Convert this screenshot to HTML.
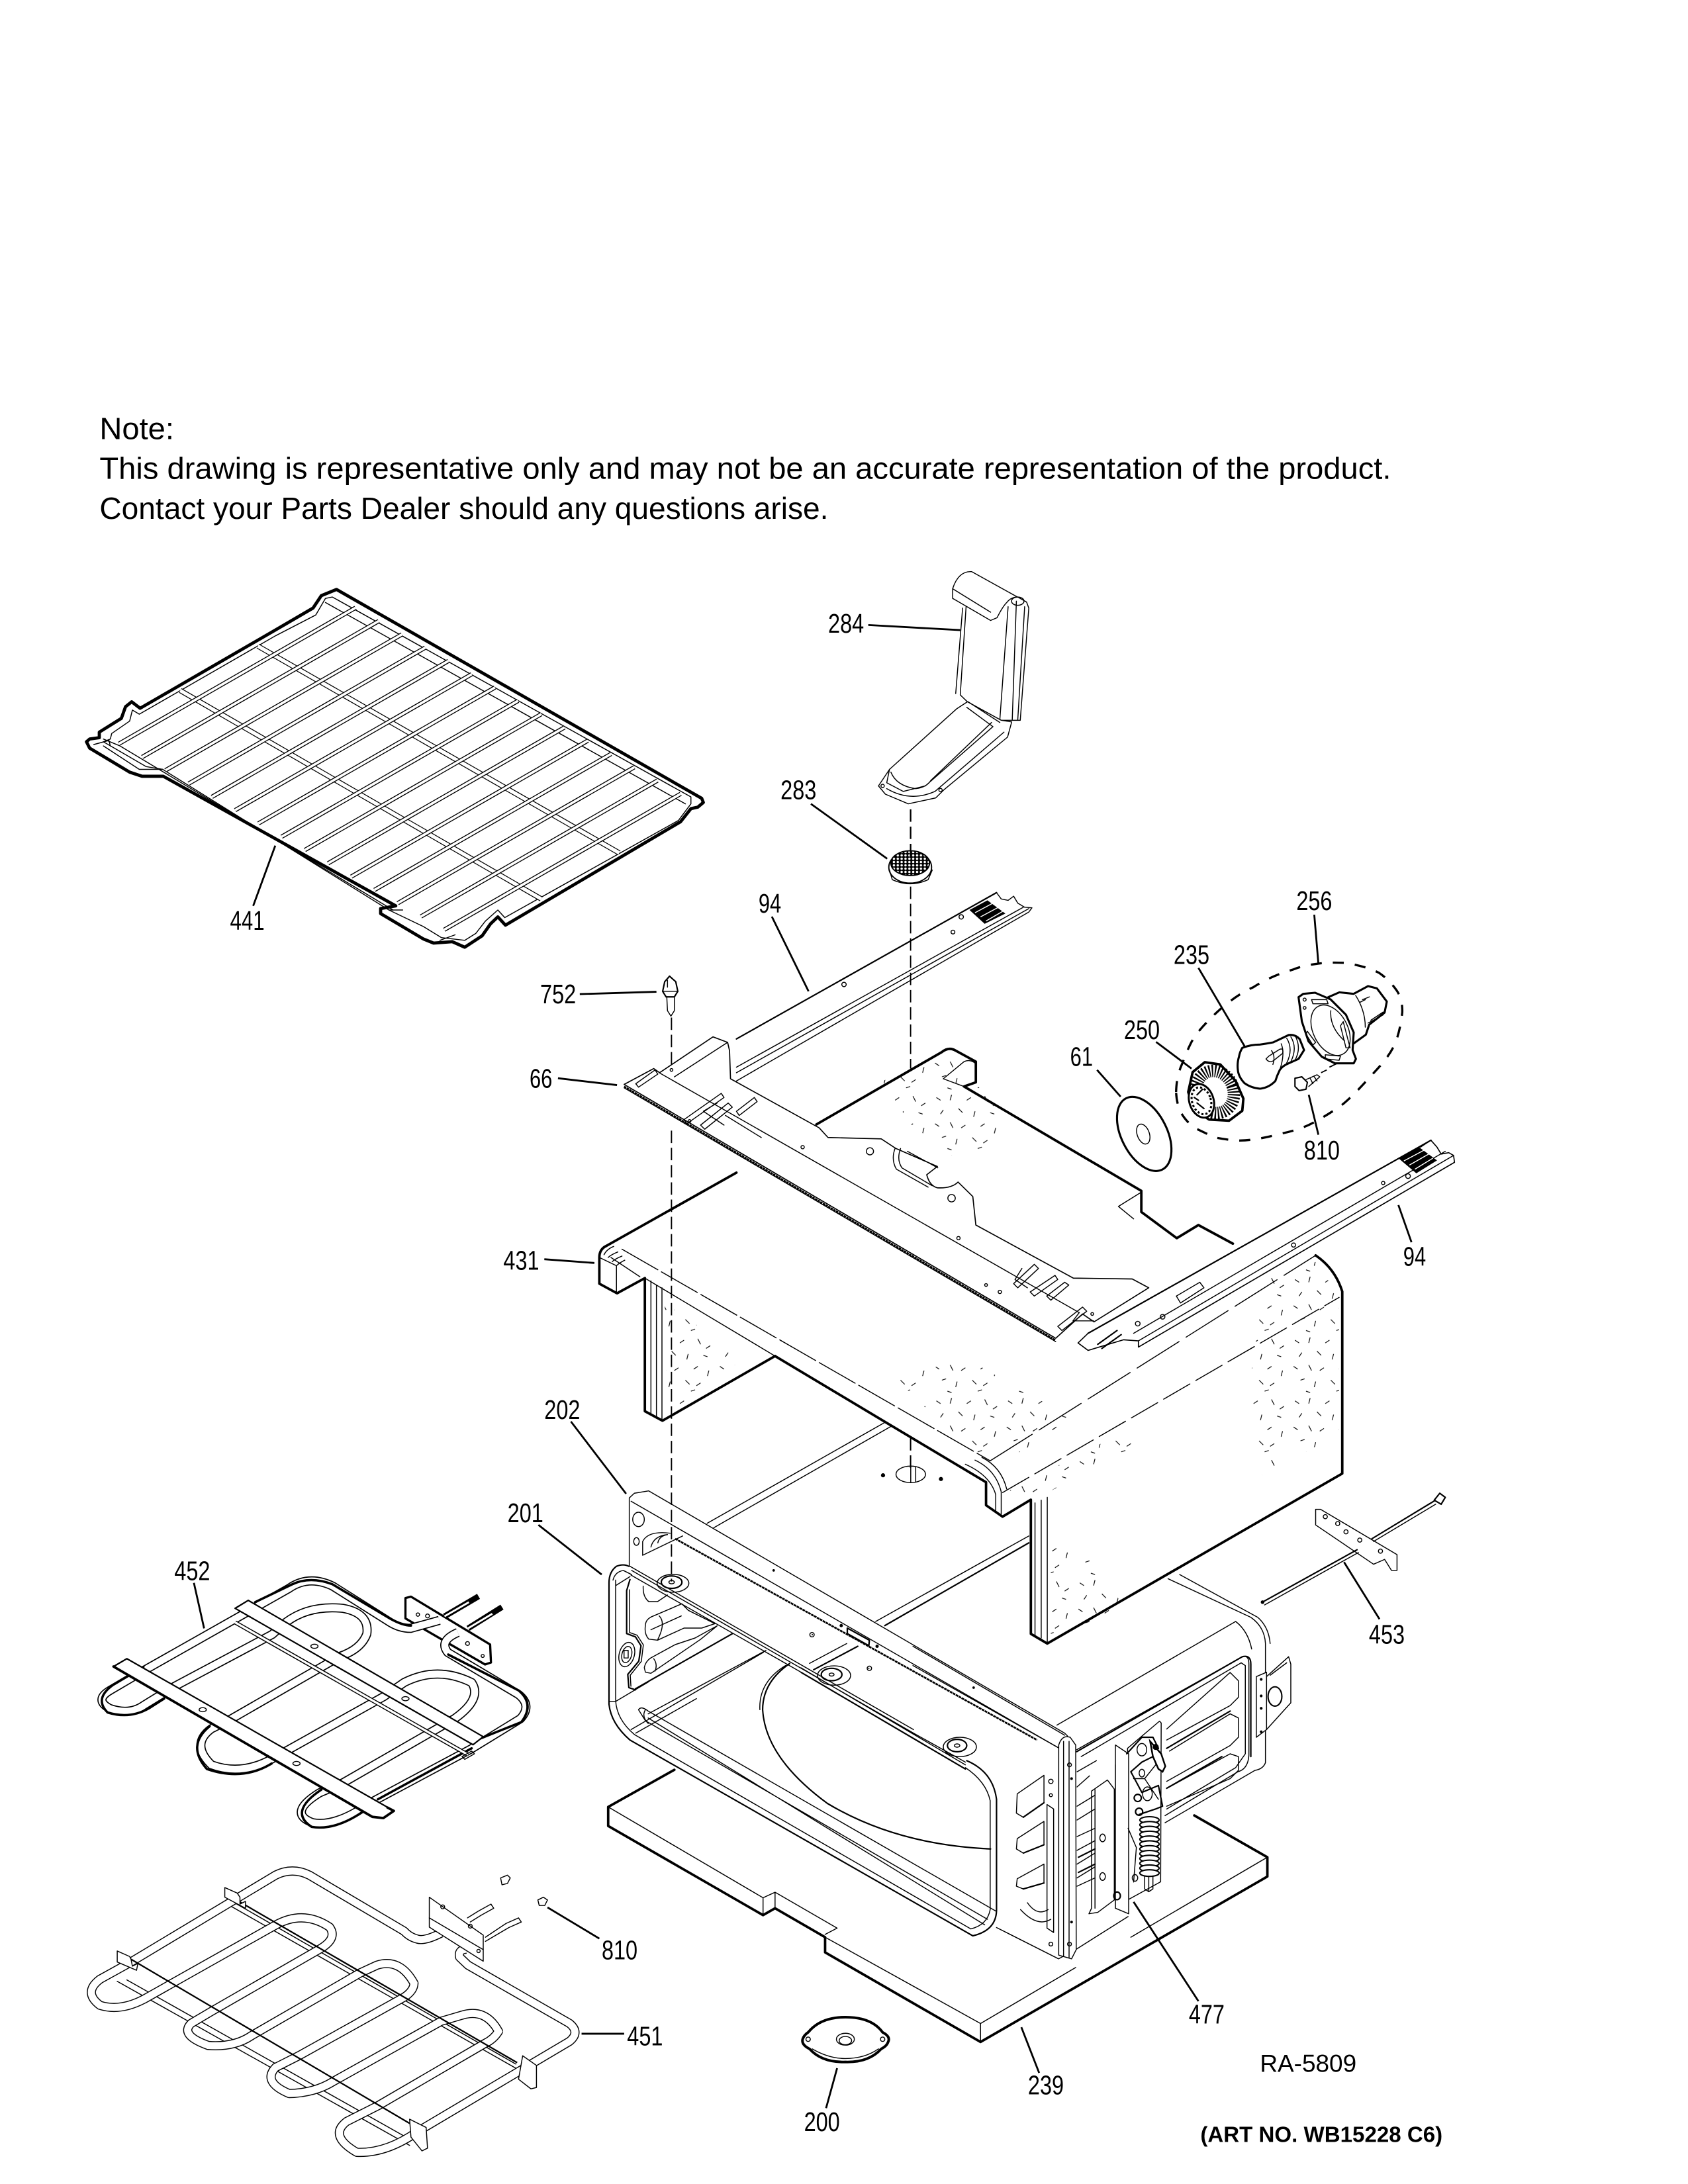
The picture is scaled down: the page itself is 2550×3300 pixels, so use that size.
<!DOCTYPE html>
<html lang="en">
<head>
<meta charset="utf-8">
<title>Oven parts diagram</title>
<style>
html,body{margin:0;padding:0;background:#fff;}
svg{display:block;}
.t{fill:none;stroke:#000;stroke-width:.7;stroke-linejoin:round;stroke-linecap:round;}
.m{fill:none;stroke:#000;stroke-width:1.05;stroke-linejoin:round;stroke-linecap:round;}
.k{fill:none;stroke:#000;stroke-width:1.8;stroke-linejoin:round;stroke-linecap:round;}
.w{fill:#fff;stroke:#000;stroke-width:.7;stroke-linejoin:round;}
.wk{fill:#fff;stroke:#000;stroke-width:1.8;stroke-linejoin:round;}
.wm{fill:#fff;stroke:#000;stroke-width:1.05;stroke-linejoin:round;}
.l{fill:none;stroke:#000;stroke-width:1.35;}
.d{fill:none;stroke:#000;stroke-width:.9;stroke-dasharray:9 3.5;}
.n{font-family:"Liberation Sans",sans-serif;font-size:19.5px;fill:#000;}
.note{font-family:"Liberation Sans",sans-serif;font-size:22.3px;fill:#000;}
</style>
</head>
<body>
<svg xmlns="http://www.w3.org/2000/svg" width="2550" height="3300" viewBox="0 0 1224 1584">
<defs>
<pattern id="sp" width="52" height="44" patternUnits="userSpaceOnUse">
<g stroke="#000" stroke-width=".55" fill="none">
<path d="M3 4l3 2M14 2l-1 4M25 6l3-2M38 3l2 4M47 8l-3 2M8 13l-2 3M19 12l3 3M31 14l-1 4M42 15l3 1M2 23l3 2M13 22l2 4M24 24l-3 2M35 25l3-2M46 26l-1 4M7 33l3-1M18 34l-1 4M29 33l3 3M40 35l-3 2M11 41l3 1M33 41l3-1"/>
</g>
</pattern>
<pattern id="mesh" width="2.8" height="2.4" patternUnits="userSpaceOnUse">
<rect width="2.8" height="2.4" fill="#000"/><circle cx="1.4" cy="1.2" r=".85" fill="#fff"/>
</pattern>
<g id="wire">
<line x1="86.3" y1="539.4" x2="257.8" y2="440.8" stroke="#000" stroke-width="3.1"/>
<line x1="86.3" y1="539.4" x2="257.8" y2="440.8" stroke="#fff" stroke-width="1.8"/>
</g>
<path id="e452" d="M318.6 1175.2L297.8 1181Q290 1181 283 1176.7L241.5 1150.5Q224 1142 209.6 1152L104.3 1211.6L79.8 1226Q68 1233 79.8 1239.2Q94 1244 104 1237L126.4 1223.2L197.4 1185.4L207.2 1176.7Q224 1164 248.8 1166.5Q268 1170 266 1185Q262 1196 246.4 1201.4L168 1246.5L153.3 1253.8Q138 1265 153.3 1280Q175 1288 197.4 1275.6L278.2 1230.5L293 1220.3Q317 1208 342 1220.3Q350 1232 329.6 1246.5L248.8 1293L231.7 1300.3Q208 1315 226.8 1322Q244 1325 268.4 1307.6L341.9 1268.3L377.4 1246.5Q386 1237 376 1229L334.5 1204.3L324.7 1198.5Q318 1190 332 1184"/>
<path id="e451" d="M319.8 1402Q308 1408 302.7 1406.4Q297 1405 293 1400.6L224.3 1360Q212 1354 199.8 1360L93.3 1424L72.5 1435.5Q60 1445 72.5 1454.4Q87 1459 104.3 1450L199.8 1396.2Q220 1385 239 1397.7Q245 1406 231.7 1413.7L153.3 1458.8L138.6 1467.5Q130 1476 150.9 1483.5Q170 1485 182.7 1476.2L261 1431L273.3 1425.3Q290 1420 300.2 1438.4Q300 1444 292.9 1448.6L217 1490.8L199.8 1499.5Q190 1510 209.6 1518.4Q228 1518 241.5 1509.7L319.8 1466L334.5 1461.7Q352 1456 361.5 1473.3Q358 1479 351.7 1482L274.5 1527L251.3 1538.7Q238 1549 258.6 1561Q280 1562 302.7 1546L381 1499.5L412.9 1480.6Q421 1474 412.9 1467.5L339.4 1425.3L333.3 1419.5Q332 1414 338.2 1413.7"/>
</defs>
<rect width="1224" height="1584" fill="#fff"/>

<!-- Note -->
<text class="note" x="72.2" y="318.5" textLength="54" lengthAdjust="spacingAndGlyphs">Note:</text>
<text class="note" x="72.2" y="347.2" textLength="936.5" lengthAdjust="spacingAndGlyphs">This drawing is representative only and may not be an accurate representation of the product.</text>
<text class="note" x="72.2" y="376.3" textLength="528.5" lengthAdjust="spacingAndGlyphs">Contact your Parts Dealer should any questions arise.</text>

<!-- RACK 441 -->
<path class="wk" style="stroke:none" d="M244 427.5L508.8 579L510 582L506 585.4L501 586.5L493.5 596L366.5 671L361 665L355.7 670L349.6 678.7L337 687L328 683L314.4 684L307 681L276 662.6L276 659L287 657L118.4 563L103 563L94 560L65 542.6L62.7 538L65 536L72 535L72 531L88 521L91 512.6L95.5 509L101.6 513.7L199.6 457L227 441L233 432Z"/>
<path class="t" d="M241 433L501 578L501 583L492 595L366 665.5L361 660L352 668L345 677L337 682L320 680L307 672L282 660L118 558L106 556L75 538L80 536L81 532L94 523L96 515L101 518L200 461L229 446L236 434Z"/>
<path class="t" d="M68 540L79 537L80 541M75 541L101 558L118 558M282 660L292 660M330 678L319 682"/>
<path class="t" d="M75 536L87 541L285 660M236 437L497 583"/>
<line x1="187" y1="468.6" x2="449" y2="618.6" stroke="#000" stroke-width="3.8"/><line x1="187" y1="468.6" x2="449" y2="618.6" stroke="#fff" stroke-width="2.6"/>
<line x1="130.7" y1="500.8" x2="392.5" y2="652" stroke="#000" stroke-width="3.8"/><line x1="130.7" y1="500.8" x2="392.5" y2="652" stroke="#fff" stroke-width="2.6"/>
<use href="#wire"/>
<use href="#wire" transform="translate(16.84,9.64)"/>
<use href="#wire" transform="translate(33.68,19.28)"/>
<use href="#wire" transform="translate(50.52,28.92)"/>
<use href="#wire" transform="translate(67.36,38.56)"/>
<use href="#wire" transform="translate(84.2,48.2)"/>
<use href="#wire" transform="translate(101.04,57.84)"/>
<use href="#wire" transform="translate(117.88,67.48)"/>
<use href="#wire" transform="translate(134.72,77.12)"/>
<use href="#wire" transform="translate(151.56,86.76)"/>
<use href="#wire" transform="translate(168.4,96.4)"/>
<use href="#wire" transform="translate(185.24,106.04)"/>
<use href="#wire" transform="translate(202.08,115.68)"/>
<use href="#wire" transform="translate(218.92,125.32)"/>
<use href="#wire" transform="translate(235.76,134.96)"/>
<path class="wk" style="fill:none;stroke-width:2.3" d="M244 427.5L508.8 579L510 582L506 585.4L501 586.5L493.5 596L366.5 671L361 665L355.7 670L349.6 678.7L337 687L328 683L314.4 684L307 681L276 662.6L276 659L287 657L118.4 563L103 563L94 560L65 542.6L62.7 538L65 536L72 535L72 531L88 521L91 512.6L95.5 509L101.6 513.7L199.6 457L227 441L233 432Z"/>

<!-- DUCT 284 -->
<path class="w" d="M690.8 434L690.8 426.9Q695 414 704.6 414.6L744.4 436.7L746 441L739.8 522.4L726 522.4L701.5 509L696.3 504L700.6 439Z"/>
<path class="w" d="M690.8 426.9L690.8 434L718.3 450L723 448Q727 440 730 437Q733 433 738 433L744.4 436.7"/>
<path class="t" d="M690.8 427L718.3 444M698 441L693 503M731 440L725 522M737 436L734 522M743 440L738 522"/>
<ellipse cx="738" cy="436" rx="4.5" ry="3" class="t"/>
<path class="w" d="M701.5 509L693.8 514L645 558L637 570L642 576L658.6 583L678.5 578.7L684.7 572.6L730.6 534.6L733.6 523.6L726 522.4Z"/>
<path class="t" d="M645 558L643 567.7L655 574L671 570L720 527M646 560Q650 570 664 572Q672 571 675 566L719 524M643 572Q660 582 678 574L728 531M701 513L720 527M702 509L725 524"/>
<circle cx="640" cy="570" r="1.2" class="t"/><circle cx="682" cy="573" r="1.2" class="t"/>

<!-- FILTER 283 -->
<ellipse cx="660" cy="629" rx="15.5" ry="11.5" fill="#fff" stroke="#000" stroke-width=".9"/>
<path class="t" d="M645 631L647 638Q660 644 673 638L676 631"/>
<ellipse cx="660" cy="626" rx="14" ry="9" fill="url(#mesh)" stroke="#000" stroke-width=".9"/>

<!-- dashes -->
<line class="d" x1="660.3" y1="587" x2="660.3" y2="622" style="stroke-width:1.1"/>
<line class="d" x1="660.3" y1="643" x2="660.3" y2="775"/>
<line class="d" x1="486.9" y1="738" x2="486.9" y2="777"/>

<!-- LEFT RAIL 94 -->
<path class="t" d="M534 753.5L722.6 647.4L726 652L731 653L735 650L738 655L743 658L748.3 658.4L746 661.5L534 784"/>
<path class="t" d="M746 659L534 778M742 658L534 774"/>
<path d="M534 753.5L722.6 647.4" class="m"/>
<path d="M703 660L716 653L729 662.6L714 670Z" fill="#000"/>
<path d="M707 662L720 655M711 665L724 658M715 668L727 661" stroke="#fff" stroke-width=".7"/>
<circle cx="697" cy="665" r="1.6" class="t"/><circle cx="691" cy="676" r="1.4" class="t"/><circle cx="612" cy="714" r="1.6" class="t"/>

<!-- INSULATION back + top -->
<path d="M688 760L707.6 770L707.6 785L699 788L827.6 863.7L827.6 879L853.3 898L869 888.5L894 902L973 937L973 1069L759 1192L715 1091L640 1032L562 983.5L480 1030L467.6 1023.5L467.6 927L434.6 931L434.6 910.5L439.7 903.6L534 850.5L592 815.5Z" fill="#fff"/>
<path d="M640 784L688 764L720 800L730 838L690 838L660 815Z" fill="url(#sp)"/>
<path class="k" d="M592 815.5L683 763Q688 759 693 762L707.6 770L707.6 785L699 788L827.6 863.7L827.6 879L853.3 898L869 888.5L894 902"/>
<path class="t" d="M684 782.4L699 770Q703 768 707 771M684 782.4L699 788M827 865L811 875L822 884"/>

<!-- LEFT wrap -->
<path class="k" d="M534 850.5L439.7 903.6Q434.6 906 434.6 912L434.6 931L447.4 938L467.6 927"/>
<path class="t" d="M438 910Q440 906 445 904M441 912Q443 910 448 908M444 915Q446 913 451 911M447 918Q449 916 453 914M434.6 912L447 918L447 938M443 912L464 926"/>
<path d="M467.6 928L481 936L562 983.5L480.4 1030.4L467.6 1023.5Z" fill="#fff"/>
<path d="M482 945L540 985L484 1025Z" fill="url(#sp)"/>
<path class="k" d="M467.6 927L467.6 1023.5L480.4 1030.4L562 983.5"/>
<path class="t" d="M472 929L472 1026M476 932L476 1028M480 934L480 1030"/>

<!-- BOARD 239 -->
<path d="M489 1283.6L441 1310.5L441 1324.3L553.3 1389L562 1384L598.3 1405L598.3 1416L711 1481L919 1361L919 1347L866 1316.7L780 1420L600 1300Z" fill="#fff"/>
<path class="k" d="M489 1283.6L441 1310.5L441 1324.3L553.3 1389L562 1384L598.3 1405L598.3 1416L711 1481L919 1361L919 1347L866 1316.7"/>
<path class="t" d="M441 1310.5L553.3 1376.4L553.3 1389M553.3 1376.4L562 1372.4L607 1398.4L598.3 1403M562 1372.4L562 1384M598.3 1405L711 1467.6L711 1481M711 1467.6L780 1427M919 1347L820 1405"/>

<!-- CAVITY ceiling lines -->
<path class="t" d="M512.8 1104.8L641 1032M517.6 1108L647 1034M635 1176L746 1114"/>
<path class="m" d="M641.6 1179L746 1119"/>
<ellipse cx="660.4" cy="1069.3" rx="10.7" ry="6" class="t"/>
<path class="t" d="M660.4 1063L660.4 1075M664 1064L664 1075"/>
<line class="d" x1="660.3" y1="1043" x2="660.3" y2="1068"/>
<circle cx="640.3" cy="1070" r="1.5" fill="#000"/><circle cx="682.3" cy="1072.7" r="1.5" fill="#000"/>

<!-- Right box -->
<path d="M766.4 1251.2L896 1176Q912 1178 917.6 1195L917.6 1278.4L844.8 1320L790 1380L767 1268Z" fill="#fff"/>
<path class="t" d="M766.4 1251.2L896 1176Q905 1183 907.6 1196M847 1145L907 1173Q917 1180 917.6 1192L917.6 1278.4Q916 1283 910 1284L844.8 1322M855.4 1142L912 1173Q920 1180 921 1192"/>
<path class="t" d="M780.8 1269L900.8 1201.6Q905.6 1200 905.6 1207L905.6 1273Q905 1283 897.6 1285L844.8 1316.8"/>
<path class="m" d="M780.8 1270.4L900.8 1201.6Q907 1200 907 1207L907 1274"/>
<path class="t" d="M784 1274L900 1206L903 1208L903 1272L896 1282L846 1312"/>
<path class="t" d="M846 1254L892 1213L898 1219L898 1231L892 1237L846 1262M848 1270L892 1243L898 1246L898 1260L892 1266L846 1292M848 1296L892 1272L898 1274L898 1284L892 1290L846 1310"/>
<path class="m" d="M846 1268L892 1241M846 1297L886 1274"/>
<path class="w" d="M911 1216L918.4 1212.8L918.4 1254.4L911 1260Z"/>
<path class="t" d="M918.4 1216L934.4 1201.6L936 1207L936 1235L918.4 1254.4M921 1215L933 1206"/>
<ellipse cx="924.5" cy="1230.4" rx="5" ry="7" class="t" style="stroke-width:1"/>
<circle cx="914.5" cy="1218" r="1" fill="#000"/><circle cx="914.5" cy="1230" r="1" fill="#000"/><circle cx="914.5" cy="1239" r="1" fill="#000"/><circle cx="914.5" cy="1256" r="1" fill="#000"/>
<path class="t" d="M722.6 1398L767.6 1420.7L780 1414L818 1390"/>

<!-- FRONT body -->
<path class="t" d="M470 1243L555.4 1197M457.6 1254.4L553.6 1198.4M461 1257L505 1232"/>
<path class="m" d="M460.8 1224.8L531.2 1184.8"/>
<path class="m" d="M572.6 1206.5Q553 1220 553 1240Q555 1275 600 1308Q650 1338 718.3 1341"/>
<path class="t" d="M569.6 1208Q550 1220 551 1240"/>
<path class="t" d="M463 1240Q465 1237 470 1241L722 1386M463 1240L468 1248L716 1392M470 1246L714 1396M468 1240Q465 1245 470 1250"/>

<path class="t" d="M737.6 1301L757 1287.6L757 1307.5L742 1318L737 1315ZM737.6 1333.5L757 1321L757 1338L742 1344L737 1341ZM737.6 1362.6L757 1352L757 1365.7L742 1370L737 1368Z"/>
<path class="m" d="M742 1318L757 1307.5M742 1344L757 1338M742 1370L757 1365.7"/>
<path class="t" d="M745 1380Q752 1390 760 1385M740 1385Q752 1398 762 1392"/>
<!-- right flange of cavity -->
<path class="t" d="M662 1194L772 1258.5M662 1208L767.6 1267.7"/>
<path class="w" d="M767.7 1265.6Q770 1258 776 1260L780 1265.6L780.4 1414L777 1420.7L767.7 1418Z"/>
<path class="t" d="M771.2 1263L771.2 1419M775.2 1263L775.2 1420M759.2 1308.8L764 1312L764 1401.6L759.2 1398.4Z"/>
<circle cx="775.5" cy="1280" r="1.4" class="t"/><circle cx="777" cy="1290" r="1" fill="#000"/><circle cx="777" cy="1394" r="1" fill="#000"/><circle cx="775.5" cy="1410" r="1.4" class="t"/>
<circle cx="762" cy="1292" r="1.6" class="t"/><circle cx="762" cy="1302" r="1.1" class="t"/><circle cx="762" cy="1410" r="1.4" class="t"/>

<!-- 202 top flange -->
<path class="t" d="M456.3 1136L456.3 1086.4L460 1083L470.4 1081.3L772 1257L774 1259M457.6 1088.8L767.6 1267.7"/>
<path d="M489.6 1116L752 1262" fill="none" stroke="#000" stroke-width="1.3" stroke-dasharray="2 .4"/>
<ellipse cx="463" cy="1102" rx="4.2" ry="5.2" class="t"/><ellipse cx="461.5" cy="1118" rx="2" ry="2.8" class="t"/>
<path class="t" d="M466 1128L466 1118Q470 1110 486 1112M472 1122Q474 1114 484 1113M477 1119Q478 1114 484 1113M466 1128L495 1114"/>
<path class="t" d="M614.4 1180.8L630.4 1189.6L630 1193.6L614.4 1184.8Z" style="stroke-width:1.1"/>
<circle cx="610" cy="1179" r="1.2" fill="#000"/><circle cx="636" cy="1194" r="1.2" fill="#000"/><circle cx="561" cy="1139" r=".9" fill="#000"/><circle cx="706" cy="1224" r=".9" fill="#000"/>
<circle cx="588.8" cy="1185.6" r="1.6" class="t"/><circle cx="630.4" cy="1210" r="1.6" class="t"/><circle cx="630" cy="1210" r=".5" fill="#000"/><circle cx="589" cy="1185.6" r=".5" fill="#000"/>

<!-- 201 frame -->
<path class="m" d="M456 1136Q452 1134 447 1136Q441.6 1140 441.6 1148L441.6 1236Q443 1250 456.8 1262L705.4 1404Q722.6 1400 722.6 1385L722.6 1305Q720 1285 701 1277"/>
<path class="t" d="M444.5 1146Q446 1140 452 1139L458 1142M446.4 1146L446.4 1233Q447 1247 460 1258L704 1399Q716 1396 718 1385L718 1306Q715 1292 700 1282M446.4 1150L456.8 1143.5M446.4 1234L470 1220M441.6 1234L446.4 1234"/>
<path class="t" d="M456.8 1136L662.4 1254.4M458 1139L662.4 1257L700 1278M457.6 1142.4L580.8 1212.8M580.8 1209.6L700 1280"/>
<path class="m" d="M581 1213L700 1283"/>
<path class="m" d="M460.8 1225.6L456 1224L455.2 1214.4L463.2 1204.8L464.8 1193.6L460.8 1187.2L454.4 1184.8L454.4 1153.6L456.8 1145.6"/>
<path class="t" d="M456.5 1153L456.5 1184L462 1186L466.5 1193L465 1205L457 1215L457.5 1223"/>
<ellipse cx="454.5" cy="1200" rx="5.5" ry="9" class="t" transform="rotate(15 454.5 1200)"/>
<ellipse cx="454.5" cy="1200" rx="3.5" ry="6" class="t" transform="rotate(15 454.5 1200)"/>
<rect x="452.5" y="1197" width="3" height="5.5" class="t"/>
<path class="t" d="M466.4 1150.4Q466 1158 470.4 1161.6L476.8 1161.6L484 1156.8"/>
<path class="t" d="M468 1179Q468 1175 472 1172.8L494.4 1163.2L499.2 1168L518.4 1177.6L508.8 1180.8L496 1180.8L476.8 1189.6L470.4 1188.8Q467 1185 468 1179ZM478 1172Q483 1177 477 1189M472 1182L494 1172"/>
<path class="t" d="M467.2 1209.6Q468 1205 472 1202.4L489.6 1192.8L504 1188L520 1179.2L508 1189L489.6 1201.6L472 1213.6L468 1212.8ZM474 1203Q477 1207 475 1212"/>
<ellipse cx="488" cy="1148.3" rx="11.5" ry="6.5" class="t"/><ellipse cx="487" cy="1147.5" rx="7.5" ry="4.5" class="m"/><ellipse cx="487" cy="1147.5" rx="2" ry="1.2" class="t"/>
<ellipse cx="604.8" cy="1215.2" rx="12" ry="7" class="t"/><ellipse cx="603" cy="1214.5" rx="7.5" ry="4.5" class="m"/><ellipse cx="603" cy="1214.5" rx="1.8" ry="1.1" class="t"/>
<ellipse cx="696" cy="1267" rx="12" ry="7" class="t"/><ellipse cx="694" cy="1266" rx="7" ry="4.5" class="m"/><ellipse cx="694" cy="1266" rx="2" ry="1.2" class="t"/>
<path class="t" d="M587 1206.4L614 1192"/><path class="m" d="M590 1211L622 1194"/>

<!-- HINGE 477 -->
<path class="w" d="M817.6 1268L840.8 1248.3L842 1249.6L841.6 1364.8L818.4 1377.6Z"/>
<path class="w" d="M791.5 1299L803 1291L808 1297.6L808 1378L796 1387L789.6 1388L791.5 1384Z"/>
<path class="t" d="M794 1298L794 1384M808.8 1280L808.8 1384"/>
<ellipse cx="799.5" cy="1333" rx="2" ry="2.8" class="t"/><ellipse cx="799.5" cy="1361" rx="2" ry="2.8" class="t"/>
<path class="w" d="M808.8 1265.6L818.4 1272L818.4 1388L808.8 1384Z"/>
<path class="m" d="M817 1272L828 1260L836 1260L840 1268L836 1274L828 1278L820 1285L828 1300L840 1295L843 1310L838 1312L826 1316"/>
<path class="t" d="M822 1290L830 1290L840 1305M830 1290L838 1280M818 1326L824 1340L822 1365"/>
<ellipse cx="828" cy="1269" rx="3.5" ry="4.5" class="t"/><ellipse cx="828" cy="1286" rx="2" ry="2.8" class="t"/><ellipse cx="832" cy="1301" rx="3.5" ry="5" class="t"/>
<ellipse cx="825" cy="1304" rx="2.6" ry="2.6" class="m"/><ellipse cx="826" cy="1314" rx="2.6" ry="2.6" class="m"/>
<path d="M834 1263L842 1272L845 1281L843 1285L840 1283L836 1274Z" fill="#fff" stroke="#000" stroke-width="1.2"/>
<circle cx="838" cy="1267" r="2.2" fill="#000"/>
<g fill="#fff" stroke="#000" stroke-width="1">
<ellipse cx="833.5" cy="1320" rx="7" ry="2.4"/><ellipse cx="833.5" cy="1323.5" rx="7" ry="2.4"/><ellipse cx="833.5" cy="1327" rx="7" ry="2.4"/><ellipse cx="833.5" cy="1330.5" rx="7" ry="2.4"/><ellipse cx="833.5" cy="1334" rx="7" ry="2.4"/><ellipse cx="833.5" cy="1337.5" rx="7" ry="2.4"/><ellipse cx="833.5" cy="1341" rx="7" ry="2.4"/><ellipse cx="833.5" cy="1344.5" rx="7" ry="2.4"/><ellipse cx="833.5" cy="1348" rx="7" ry="2.4"/><ellipse cx="833.5" cy="1351.5" rx="7" ry="2.4"/><ellipse cx="833.5" cy="1355" rx="7" ry="2.4"/><ellipse cx="833.5" cy="1358.5" rx="7" ry="2.4"/>
</g>
<path class="t" d="M830 1361L830 1370L833 1372L836 1370L836 1361M833 1361L833 1372"/>
<ellipse cx="823" cy="1362" rx="2" ry="2.4" class="t"/><ellipse cx="810" cy="1375" rx="2.4" ry="2.8" class="m"/>
<!-- side louvre lines between hinge and flange -->
<path class="t" d="M781 1285L795 1277M781 1296L790 1288M781 1310L794 1302M781 1320L794 1312M781 1332L794 1326M781 1342L794 1335M781 1352L794 1344M781 1362L794 1354M781 1368L794 1362"/>
<path class="m" d="M782 1347L794 1341M782 1358L794 1352"/>

<!-- FRONT insulation -->
<path d="M718 1059.5L954 910.5L962 918L973.3 937L973.3 1068.7L759.4 1192L747.5 1185L747.5 1087.7L727 1100L715 1091.7L715 1075L700 1060Z" fill="#fff"/>
<path d="M650 1000L700 985L780 1030L722 1063L690 1040Z" fill="url(#sp)"/>
<path d="M918 925L955 915L971 942L971 1040L915 1070L905 1010Z" fill="url(#sp)"/>
<path d="M762 1116L790 1130L815 1165L762 1190Z" fill="url(#sp)"/>
<path d="M730 1082L812 1040L830 1045L755 1085Z" fill="url(#sp)"/>
<path class="t" d="M451 906L718 1059.5" style="stroke-dasharray:30 3"/>
<path class="t" d="M467.6 927L562 983.5"/>
<path class="t" d="M727 1082.5L971 941" style="stroke-dasharray:22 5"/>
<path class="t" d="M718 1059.5L954 910.5" style="stroke-dasharray:36 6"/>
<path class="t" d="M700 1062Q718 1070 722 1084L722 1096M707 1059Q722 1066 726 1082L726 1098M712 1057Q726 1064 730 1080"/>
<path class="k" d="M562 983.5L643 1032L715 1075L715 1091.7L727 1100L747.5 1087.7L747.5 1185L759.4 1192L973.3 1068.7L973.3 936.7Q968 920 954 910.5"/>
<path class="t" d="M750.5 1090L750.5 1186M755 1088L755 1188M759.4 1086L759.4 1192"/>
<line x1="486.9" y1="820" x2="486.9" y2="1147" class="d"/>
<line class="d" x1="660.3" y1="1043" x2="660.3" y2="1067"/>

<!-- BRACKET 66 -->
<path class="wm" style="stroke-width:.8" d="M452.6 786.5L474 775L478.3 778L517 752L527.6 756L529 762L529.7 782.4L594 818L600.4 825L639 826L649.7 833L679.7 846L672 852Q674 860 679.7 861.5Q690 862 694.7 857.3L705.4 867.8L707.6 888.5L778.3 927L821 927.6L833 934L793.3 958.7L785 953L765.5 970.6Z"/>
<path class="t" d="M478 778L782.6 952M489 781L527.6 756M452.6 789L765.5 973"/>
<path d="M452.6 788L765.5 972" fill="none" stroke="#000" stroke-width="1.2" stroke-dasharray="1.8 .4"/>
<path class="t" d="M461 786L475 776L477 779L463 788.5ZM496 812L523 793L525 796L498 815ZM508 816L528 800L531 803L511 819ZM534 806L547 796L549 799L536 809Z"/>
<path class="t" d="M520 800L510 806L525 816M526 809L552 825M782.6 952L778 958L793 958M741 920L736 928L745 934"/>
<path class="t" d="M735 931L750 917L753 920L738 934ZM747 937L765 925L767 928L750 940ZM759 940L772 930L775 932L762 943ZM767 962L785 948L788 951L770 965Z"/>
<path class="t" d="M649 833Q646 841 650 848L673 861M653 833Q650 841 654 847L676 860M658 835L680 847"/>
<circle cx="630.8" cy="835" r="2.6" class="t"/><circle cx="690" cy="869" r="2.7" class="t"/><circle cx="582" cy="832" r="1.2" class="t"/><circle cx="695" cy="898" r="1.2" class="t"/><circle cx="486.9" cy="776" r="1" class="t"/><circle cx="500" cy="813" r="1" class="t"/><circle cx="715" cy="932" r="1" class="t"/><circle cx="792" cy="953" r="1" class="t"/>
<circle cx="725" cy="937" r="1.2" class="t"/>

<!-- RIGHT RAIL 94 -->
<path class="wm" style="stroke-width:.8" d="M781.7 974L789 979.4L814.7 971.7L825.5 972.5L825.5 977L1054.7 843L1054 838L1050.5 836L1045 837L1042 832L1037.6 827L789 967Z"/>
<path class="m" d="M789 967L1037.6 827"/>
<path class="t" d="M825.5 972.5L1054 838M822 967L1048 835M1037.6 827L1030 832"/>
<path d="M1014 840L1029 832L1042 841.6L1027 851Z" fill="#000"/>
<path d="M1018 842L1033 834M1022 845L1036 837M1026 848L1039 840" stroke="#fff" stroke-width=".7"/>
<path class="t" d="M853 940L870 930L873 934L856 945Z"/>
<path class="m" d="M796 975L810 965M799 978L813 968"/>
<circle cx="1021" cy="853" r="1.7" class="t"/><circle cx="1003" cy="858" r="1.2" class="t"/><circle cx="938" cy="903" r="1.5" class="t"/><circle cx="843" cy="955" r="1.7" class="t"/><circle cx="825" cy="960" r="1.7" class="t"/>

<!-- LAMP ring -->
<path d="M852.8 792C853 785 854 780 856 774.4C860 765 862 758 867.2 750.4C874 742 882 734 889.6 728C896 723 902 719 908.8 716C918 710 928 706 937.6 703.2C943 701 948 700 953.6 699.2C961 698 968 698 976 698.4C985 700 993 702 1000 705.6C1005 709 1009 713 1012.8 718.4C1016 723 1017 729 1016.8 734.4C1016 741 1015 747 1012.8 753.6C1011 759 1008 764 1004.8 768C1002 772 998 776 995.2 779.2C988 787 981 795 972.8 801.6C965 807 957 812 948.8 816C942 819 935 821 928 822.4C918 825 909 827 899.2 827.2C892 827 886 826 880 824.8C875 822 870 820 865.6 817.6C861 814 858 810 856 806.4C854 802 853 797 852.8 792Z" fill="none" stroke="#000" stroke-width="1.6" stroke-dasharray="8 8"/>
<!-- 61 lens -->
<ellipse cx="829.7" cy="822.4" rx="16.5" ry="29" class="wk" transform="rotate(-27 829.7 822.4)" style="stroke-width:1.5"/>
<ellipse cx="829" cy="822.5" rx="4.4" ry="7.5" class="t" transform="rotate(-20 829 822.5)"/>
<!-- 250 cover -->
<path class="wk" d="M864.8 777.6L873.6 770.4L884.8 772L896 784L901.6 796.8L900.8 805.6L891.2 812.8L876.8 812L865.6 804.8L861.6 792Z"/>
<ellipse cx="881" cy="792" rx="13.5" ry="15.5" fill="none" stroke="#000" stroke-width="9" stroke-dasharray="1 1.1" transform="rotate(-20 881 792)"/>
<ellipse cx="871.2" cy="798.4" rx="8.8" ry="12.5" class="wm" transform="rotate(-18 871.2 798.4)" style="stroke-width:1.4"/>
<ellipse cx="871.2" cy="798.4" rx="6.8" ry="10" fill="none" stroke="#000" stroke-width="1.5" stroke-dasharray="1.5 1.5" transform="rotate(-18 871.2 798.4)"/>
<path class="m" d="M868 794L872 790M868 800L873 804M866 796L869 798"/>
<!-- 235 bulb -->
<path class="wk" style="stroke-width:1.5" d="M900.8 760Q907 757.6 913.6 757.6Q918 757 923.2 756L934.4 750.7Q939 750 942.4 753.6L945.6 761.6L941.6 768L934.4 771.2Q930 773 928 776Q926 780 924.8 784Q920 789 913.6 789.6Q907 789 902.4 785.6Q898 781 897.6 776Q897 771 898.4 766.4Q899 763 900.8 760Z"/>
<path class="t" d="M936 752Q941 760 936 770M939 751Q944 760 939 769M933 753Q938 761 933 771M929 757Q932 764 928 776"/>
<path class="t" d="M918 768Q921 772 925 768L930 764Q931 760 928 761L920 766ZM922 762Q925 766 923 772"/>
<!-- 256 housing -->
<path class="wk" style="stroke-width:1.5" d="M963.2 723.2L971.2 719.7L981.6 720.8L992 715.2L998.4 716.8L1005.6 726.4L1004 734.4L992.8 743.2L990.4 750.4L981.6 756.8L975 745Z"/>
<path class="t" d="M983 722Q990 733 990 745M994 740L1003 734M992 742L1003 736M988 725L993 723M986 727L990 725"/>
<path class="wk" style="stroke-width:1.5" d="M941.6 723.2L945 720.8L953.6 720L964.8 724.8L976 736L981.6 748.8L980.8 761.6L983.2 768L981.6 771.2L968 771.2L958.4 766.4L948.8 755.2L944 740.8Z"/>
<ellipse cx="964.8" cy="747.2" rx="12.5" ry="19.5" class="t" transform="rotate(-27 964.8 747.2)"/>
<path class="t" d="M951 725L962 725L963 728L952 728ZM948 748L954 756L952 758L947 750ZM961 765L972 766L971 769L961 768ZM974 741L979 760L976 760L972 744ZM965 733Q964 745 975 755"/>
<circle cx="946" cy="725" r="1.1" class="t"/><circle cx="946" cy="731" r="1" class="t"/>
<!-- screw -->
<path class="wk" style="stroke-width:1" d="M939 782L944 781L948 785L947 790L942 791L939 788Z"/>
<path class="t" d="M947 783L955 779.5L957 781L949 788M950 782L952 786M953 781L955 784"/>
<path d="M958 778L962 776M964 774L970 771" stroke="#000" stroke-width=".9"/>

<!-- 752 screw -->
<path class="wm" d="M482 712L485.5 708L490 712L491.5 719L489 723L483 723L480.5 719Z"/>
<path class="t" d="M483.5 723L484 733L486.5 737L489 733L489 723M481 719L491 719M484 716L484 711"/>

<!-- 200 plate -->
<path class="wk" style="stroke-width:1.9" d="M586 1474Q595 1463 613 1463Q632 1463 640 1474Q646 1477 644 1481Q643 1484 639 1486Q630 1496 613 1495.5Q596 1496 587 1486Q581 1483 582 1479Q583 1476 586 1474Z"/>
<ellipse cx="613" cy="1479" rx="6.5" ry="4.3" class="t"/><ellipse cx="613" cy="1480" rx="4.5" ry="3" class="t"/>
<circle cx="586" cy="1479" r="1.6" class="t"/><circle cx="640" cy="1479" r="1.6" class="t"/>
<path class="t" d="M589 1486Q601 1493 613 1493Q627 1493 637 1486"/>

<!-- 453 -->
<path class="w" d="M954 1094.7L957.6 1094.7L1013 1127.5L1013 1139L1009 1139L1004 1131L996 1134.5L954 1106Z"/>
<path d="M994.8 1116L1040 1088.6" class="m"/><path d="M996 1118L1041 1091" class="t"/>
<path d="M1040 1088L1044 1083L1048 1086L1045 1091Z" class="wm"/>
<path class="m" d="M915.4 1162L984 1124"/><path class="t" d="M917 1164L985 1126"/>
<circle cx="915.5" cy="1162" r="1.3" fill="#000"/>
<circle cx="961" cy="1100" r="1.5" class="t"/><circle cx="970" cy="1105" r="1.5" class="t"/><circle cx="976" cy="1111" r="1.5" class="t"/><circle cx="986" cy="1117" r="1.5" class="t"/><circle cx="1001" cy="1125" r="1.5" class="t"/>

<!-- 452 element -->
<path d="M294 1159L298 1158L355.4 1192.7L356 1205.8L351.7 1207.2L294 1173.8Z" fill="#fff" stroke="#000" stroke-width="1.6" stroke-linejoin="round"/>
<circle cx="303" cy="1171" r="1.2" class="t"/><circle cx="310" cy="1172" r="1.4" class="t"/><circle cx="339" cy="1192" r="1.4" class="t"/><circle cx="350" cy="1201" r="1.1" class="t"/>
<path d="M322.3 1172.3L347 1157.8M339.4 1181L364 1165.6" stroke="#000" stroke-width="4.2" fill="none"/>
<path d="M322.3 1172.3L340 1162M339.4 1181L357 1170.4" stroke="#fff" stroke-width="1.4" fill="none"/>
<use href="#e452" fill="none" stroke="#000" stroke-width="6.6" stroke-linejoin="round"/>
<use href="#e452" fill="none" stroke="#fff" stroke-width="5"/>
<path class="k" style="stroke-width:1.7" d="M104 1209L82 1222Q68 1232 78 1242Q94 1247 108 1239L119 1232M152 1252Q135 1266 150 1283Q176 1292 197 1279M233 1298Q209 1314 226 1325Q244 1328 266 1312M274 1305L342 1268M185 1162L212 1149Q225 1143 241 1149L283 1174Q292 1179 298 1179M325 1200L376 1226Q388 1236 378 1249L348 1261"/>
<path d="M170.5 1176.7L339.4 1272.7" stroke="#000" stroke-width="3" fill="none"/>
<path d="M170.5 1176.7L339.4 1272.7" stroke="#fff" stroke-width="1.6" fill="none"/>
<path class="wm" d="M170.5 1166.5L180 1160.7L350.4 1259.6L343 1265.4Z"/>
<path class="wm" d="M82.3 1208.7L92 1203L285.6 1313.4L278 1318.6L270 1317.7Z"/>
<path class="k" d="M82.3 1208.7L270 1317.7L278 1318.6L285.6 1313.4L281 1311"/>
<path class="m" d="M170.5 1166.5L180 1160.7"/>
<ellipse cx="228" cy="1194" rx="2.6" ry="1.5" class="t"/><ellipse cx="294" cy="1232" rx="2.6" ry="1.5" class="t"/>
<ellipse cx="147" cy="1240" rx="2.6" ry="1.5" class="t"/><ellipse cx="215" cy="1279" rx="2.6" ry="1.5" class="t"/>
<path class="t" d="M335 1274L342 1270L344 1272L337 1276Z"/>

<!-- 451 element -->
<path class="t" d="M85 1437L297 1556M92 1436L298 1552"/>
<path class="t" d="M163 1380L374 1500M170 1380L374 1497"/>
<use href="#e451" fill="none" stroke="#000" stroke-width="6.6" stroke-linejoin="round"/>
<use href="#e451" fill="none" stroke="#fff" stroke-width="5.2"/>
<path d="M95 1421L297 1540M168 1376L375 1496" stroke="#000" stroke-width="1.1" fill="none"/>
<path class="w" d="M85 1415L94 1419L95 1421L96 1426L100 1424L99 1429L85 1423Z"/>
<path class="w" d="M163 1369L172 1373L174 1376L174 1381L178 1379L178 1384L163 1376Z"/>
<path class="w" d="M297 1537L309 1543L310 1558L306 1560L298 1550Z"/>
<path class="w" d="M379 1491L389 1498L389 1514L385 1515L376 1508Z"/>
<path class="w" d="M311.3 1376L350.4 1403.5L350.4 1422.4L311.3 1397.7Z"/>
<path class="t" d="M311.3 1391L350.4 1414"/>
<circle cx="321" cy="1383" r="1.4" class="t"/><circle cx="341" cy="1397" r="1.4" class="t"/><circle cx="347" cy="1415" r="1.2" class="t"/>
<path class="t" d="M339 1391L347 1386L356 1381L358 1384L349 1389L341 1394M352 1405L367 1395L376 1391L378 1394L369 1398L352 1408"/>
<path class="t" d="M363 1362L368 1360L370 1362L368 1366L364 1367Z"/><path class="t" d="M390 1378L394 1376L397 1378L395 1382L391 1382Z"/>

<!-- Leaders -->
<g class="l">
<path d="M629.6 453.3L696.3 457"/>
<path d="M588 583L643.3 622.8"/>
<path d="M559.7 664.8L586.3 719"/>
<path d="M953 663.4L956 699"/>
<path d="M869 702L902.6 759"/>
<path d="M838.3 755.7L864 775"/>
<path d="M795.5 776L812.6 795.4"/>
<path d="M420.4 721L476 719.3"/>
<path d="M404.6 782L447.4 787"/>
<path d="M949 794L956 823"/>
<path d="M1014 874L1023.5 901"/>
<path d="M394.7 913.3L431 916"/>
<path d="M199.6 613.3L183.6 657"/>
<path d="M414 1031L454 1083.4"/>
<path d="M390.4 1106L436.3 1142"/>
<path d="M140.6 1148L148 1181"/>
<path d="M974.6 1133L1000.3 1174.3"/>
<path d="M397 1383.4L434.6 1406"/>
<path d="M421.7 1475L452.6 1475"/>
<path d="M822 1379.4L869 1451.4"/>
<path d="M740.6 1470.3L753.5 1503.4"/>
<path d="M607 1500L599 1529"/>
</g>

<!-- Labels -->
<g class="n">
<text x="600.5" y="459" textLength="26" lengthAdjust="spacingAndGlyphs">284</text>
<text x="566" y="579.5" textLength="26" lengthAdjust="spacingAndGlyphs">283</text>
<text x="550" y="662" textLength="16.5" lengthAdjust="spacingAndGlyphs">94</text>
<text x="940" y="660" textLength="26" lengthAdjust="spacingAndGlyphs">256</text>
<text x="851" y="699" textLength="26" lengthAdjust="spacingAndGlyphs">235</text>
<text x="815" y="753.5" textLength="26" lengthAdjust="spacingAndGlyphs">250</text>
<text x="776" y="773" textLength="16.5" lengthAdjust="spacingAndGlyphs">61</text>
<text x="391.7" y="727.6" textLength="26" lengthAdjust="spacingAndGlyphs">752</text>
<text x="384" y="789" textLength="16.5" lengthAdjust="spacingAndGlyphs">66</text>
<text x="945.5" y="841" textLength="26" lengthAdjust="spacingAndGlyphs">810</text>
<text x="1017.5" y="918" textLength="16.5" lengthAdjust="spacingAndGlyphs">94</text>
<text x="365" y="921" textLength="26" lengthAdjust="spacingAndGlyphs">431</text>
<text x="166.8" y="674.4" textLength="25" lengthAdjust="spacingAndGlyphs">441</text>
<text x="394.7" y="1029" textLength="26" lengthAdjust="spacingAndGlyphs">202</text>
<text x="368" y="1104" textLength="26" lengthAdjust="spacingAndGlyphs">201</text>
<text x="126.4" y="1146" textLength="26" lengthAdjust="spacingAndGlyphs">452</text>
<text x="992.6" y="1192" textLength="26" lengthAdjust="spacingAndGlyphs">453</text>
<text x="436.3" y="1421" textLength="26" lengthAdjust="spacingAndGlyphs">810</text>
<text x="454.7" y="1483.5" textLength="26" lengthAdjust="spacingAndGlyphs">451</text>
<text x="862" y="1467.6" textLength="26" lengthAdjust="spacingAndGlyphs">477</text>
<text x="745.4" y="1519" textLength="26" lengthAdjust="spacingAndGlyphs">239</text>
<text x="583" y="1545.6" textLength="26" lengthAdjust="spacingAndGlyphs">200</text>
</g>
<text x="913.6" y="1502.6" font-family="'Liberation Sans',sans-serif" font-size="18" textLength="70" lengthAdjust="spacingAndGlyphs">RA-5809</text>
<text x="870.4" y="1553.4" font-family="'Liberation Sans',sans-serif" font-size="16" font-weight="bold" textLength="175.6" lengthAdjust="spacingAndGlyphs">(ART NO. WB15228 C6)</text>
</svg>
</body>
</html>
